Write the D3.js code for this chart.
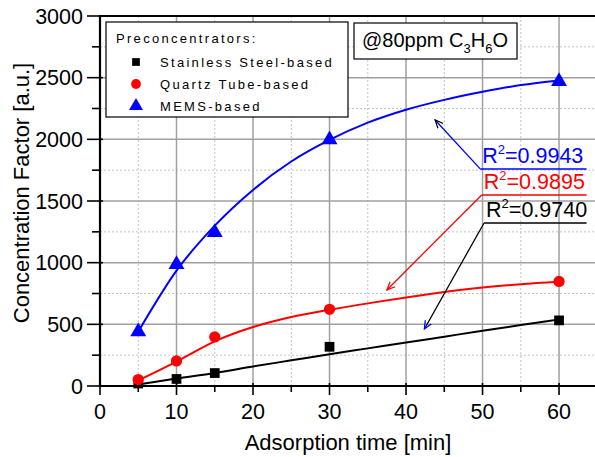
<!DOCTYPE html>
<html>
<head>
  <script src="https://d3js.org/d3.v7.min.js"></script>
  <style>
    body { margin: 0; background: #fff; }
    svg { font-family: "Liberation Sans", Arial, sans-serif; display: block; }
    .tick-label { font-size: 21.5px; }
    .axis-title { font-size: 22px; }
    .legend-text { font-size: 13px; letter-spacing: 2.3px; }
  </style>
</head>
<body>
  <div id="chart"></div>
  <script>
    // measured points
    const times = [5, 10, 15, 30, 60];
    const steel = [20, 57, 105, 318, 532];
    const quartz = [52, 203, 398, 622, 848];
    const mems = [440, 985, 1245, 1998, 2470];

    // fitted curves
    const fitX = [5, 10, 15, 20, 25, 30, 35, 40, 45, 50, 55, 60];
    const steelFit = [12, 60, 106, 158, 208, 258, 305, 352, 400, 448, 494, 540];
    const quartzFit = [45, 198, 362, 478, 560, 618, 670, 718, 762, 798, 825, 845];
    const memsFit = [440, 935, 1300, 1590, 1820, 1995, 2135, 2240, 2320, 2385, 2440, 2478];

    const xTicks = [0, 10, 20, 30, 40, 50, 60];
    const yTicks = [0, 500, 1000, 1500, 2000, 2500, 3000];
    const r2Labels = ["0.9943", "0.9895", "0.9740"];
    const seriesNames = ["Stainless Steel-based", "Quartz Tube-based", "MEMS-based"];

    const W = 595, H = 457;
    const svg = d3.select("#chart").append("svg").attr("width", W).attr("height", H);

    const x = d3.scaleLinear().domain([0, 64.7]).range([100, 595]);
    const y = d3.scaleLinear().domain([0, 3000]).range([386, 16]);

    // grid
    const minorX = d3.range(5, 65, 10);
    const minorY = d3.range(250, 3000, 500);
    svg.append("g").selectAll("line").data(minorX).join("line")
      .attr("x1", d => x(d)).attr("x2", d => x(d)).attr("y1", y(0)).attr("y2", y(3000))
      .attr("stroke", "#c4c4c4").attr("stroke-width", 1).attr("stroke-dasharray", "2,2");
    svg.append("g").selectAll("line").data(minorY).join("line")
      .attr("x1", x(0)).attr("x2", W).attr("y1", d => y(d)).attr("y2", d => y(d))
      .attr("stroke", "#c4c4c4").attr("stroke-width", 1).attr("stroke-dasharray", "2,2");
    svg.append("g").selectAll("line").data(xTicks.slice(1)).join("line")
      .attr("x1", d => x(d)).attr("x2", d => x(d)).attr("y1", y(0)).attr("y2", y(3000))
      .attr("stroke", "#a0a0a0").attr("stroke-width", 1.5);
    svg.append("g").selectAll("line").data(yTicks.slice(1, -1)).join("line")
      .attr("x1", x(0)).attr("x2", W).attr("y1", d => y(d)).attr("y2", d => y(d))
      .attr("stroke", "#a0a0a0").attr("stroke-width", 1.5);

    // axes
    const ax = svg.append("g").attr("stroke", "#000");
    ax.append("line").attr("x1", x(0)).attr("x2", x(0)).attr("y1", y(0) + 1).attr("y2", y(3000) - 1).attr("stroke-width", 2.2);
    ax.append("line").attr("x1", x(0) - 1).attr("x2", W).attr("y1", y(0)).attr("y2", y(0)).attr("stroke-width", 2.2);
    ax.append("line").attr("x1", x(0) - 1).attr("x2", W).attr("y1", y(3000)).attr("y2", y(3000)).attr("stroke-width", 2.2);
    ax.selectAll(".ytk").data(yTicks).join("line")
      .attr("x1", x(0) - 13).attr("x2", x(0) + 3).attr("y1", d => y(d)).attr("y2", d => y(d)).attr("stroke-width", 1.6);
    ax.selectAll(".ytm").data(minorY).join("line")
      .attr("x1", x(0) - 8).attr("x2", x(0)).attr("y1", d => y(d)).attr("y2", d => y(d)).attr("stroke-width", 1.6);
    ax.selectAll(".xtk").data(xTicks).join("line")
      .attr("x1", d => x(d)).attr("x2", d => x(d)).attr("y1", y(0) - 3).attr("y2", y(0) + 9).attr("stroke-width", 1.6);
    ax.selectAll(".xtm").data(minorX).join("line")
      .attr("x1", d => x(d)).attr("x2", d => x(d)).attr("y1", y(0)).attr("y2", y(0) + 6).attr("stroke-width", 1.6);

    svg.append("g").selectAll("text").data(yTicks).join("text")
      .attr("class", "tick-label").attr("x", 83).attr("y", d => y(d) + 7.5)
      .attr("text-anchor", "end").text(d => d);
    svg.append("g").selectAll("text").data(xTicks).join("text")
      .attr("class", "tick-label").attr("x", d => x(d)).attr("y", 419)
      .attr("text-anchor", "middle").text(d => d);

    svg.append("text").attr("class", "axis-title")
      .attr("transform", "translate(29,193) rotate(-90)")
      .attr("text-anchor", "middle").text("Concentration Factor [a.u.]");
    svg.append("text").attr("class", "axis-title")
      .attr("x", 348).attr("y", 450).attr("text-anchor", "middle").text("Adsorption time [min]");

    // fit lines
    const line = d3.line().x(d => x(d[0])).y(d => y(d[1])).curve(d3.curveMonotoneX);
    const fits = [[steelFit, "#000"], [quartzFit, "#ff0000"], [memsFit, "#0000ff"]];
    fits.forEach(([vals, c]) => {
      svg.append("path").datum(fitX.map((t, i) => [t, vals[i]]))
        .attr("d", line).attr("fill", "none").attr("stroke", c).attr("stroke-width", 2);
    });

    // markers
    const sym = [d3.symbolSquare, d3.symbolCircle, d3.symbolTriangle];
    const symSize = [95, 100, 110];
    const cols = ["#000", "#ff0000", "#0000ff"];
    [steel, quartz, mems].forEach((vals, k) => {
      svg.append("g").selectAll("path").data(vals).join("path")
        .attr("transform", (d, i) => `translate(${x(times[i])},${y(d)})`)
        .attr("d", d3.symbol(sym[k], symSize[k]))
        .attr("fill", cols[k]);
    });

    // arrows and R² labels
    const defs = svg.append("defs");
    cols.forEach((c, i) => {
      defs.append("marker").attr("id", "ah" + i)
        .attr("viewBox", "0 0 10 10").attr("refX", 9).attr("refY", 5)
        .attr("markerWidth", 9).attr("markerHeight", 9).attr("markerUnits", "userSpaceOnUse")
        .attr("orient", "auto")
        .append("path").attr("d", "M0,1 L9,5 L0,9").attr("fill", "none")
        .attr("stroke", c).attr("stroke-width", 1.4);
    });
    const arrowFrom = [[49.7, 1760], [49.9, 1549], [50.2, 1322]];
    const arrowTo = [[43.8, 2157], [37.5, 779], [42.4, 462]];
    const r2Cols = ["#0000ff", "#ff0000", "#000"];
    r2Labels.forEach((lab, i) => {
      const [fx, fy] = arrowFrom[i];
      svg.append("line").attr("x1", x(fx)).attr("y1", y(fy)).attr("x2", x(63.6)).attr("y2", y(fy))
        .attr("stroke", r2Cols[i]).attr("stroke-width", 1.4);
      svg.append("line").attr("x1", x(fx)).attr("y1", y(fy))
        .attr("x2", x(arrowTo[i][0])).attr("y2", y(arrowTo[i][1]))
        .attr("stroke", r2Cols[i]).attr("stroke-width", 1.3)
        .attr("marker-end", `url(#ah${i})`);
      const t = svg.append("text").attr("x", x(fx) + 2).attr("y", y(fy) - 6)
        .attr("font-size", 21.5).attr("fill", r2Cols[i]);
      t.append("tspan").text("R");
      t.append("tspan").attr("font-size", 13).attr("dy", -9).text("2");
      t.append("tspan").attr("dy", 9).text("=" + lab);
    });

    // condition box
    svg.append("rect").attr("x", 354).attr("y", 23).attr("width", 163).attr("height", 36)
      .attr("fill", "#fff").attr("stroke", "#000").attr("stroke-width", 1.2);
    const ct = svg.append("text").attr("x", 362).attr("y", 47).attr("font-size", 20);
    ct.append("tspan").text("@80ppm C");
    ct.append("tspan").attr("font-size", 13).attr("dy", 6).text("3");
    ct.append("tspan").attr("dy", -6).text("H");
    ct.append("tspan").attr("font-size", 13).attr("dy", 6).text("6");
    ct.append("tspan").attr("dy", -6).text("O");

    // legend
    const lg = svg.append("g");
    lg.append("rect").attr("x", 106).attr("y", 22).attr("width", 242).attr("height", 95)
      .attr("fill", "#fff").attr("stroke", "#000").attr("stroke-width", 1.2);
    lg.append("text").attr("class", "legend-text").attr("x", 116).attr("y", 43).text("Preconcentrators:");
    const legY = [62, 84, 106];
    seriesNames.forEach((n, i) => {
      lg.append("path").attr("transform", `translate(136,${legY[i]})`)
        .attr("d", d3.symbol(sym[i], [60, 75, 85][i])).attr("fill", cols[i]);
      lg.append("text").attr("class", "legend-text").attr("x", 160).attr("y", legY[i] + 5).text(n);
    });
  </script>
</body>
</html>
